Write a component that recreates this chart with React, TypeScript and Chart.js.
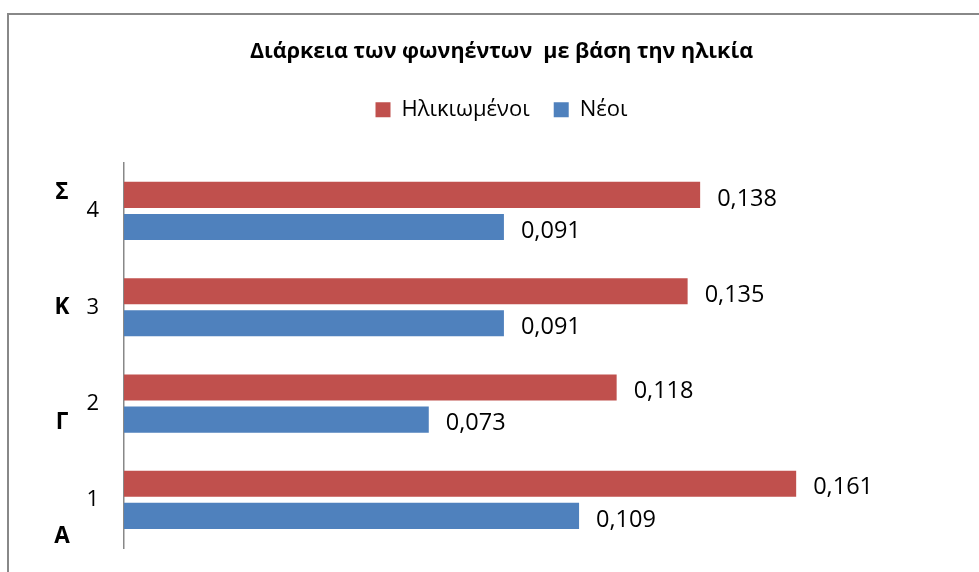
import React, { useEffect, useRef } from "react";
import { Chart, registerables } from "chart.js";

Chart.register(...registerables);

const categories = ["1", "2", "3", "4"];
const sideLetters = ["Σ", "Κ", "Γ", "Α"]; // top to bottom
const seriesNames = ["Ηλικιωμένοι", "Νέοι"];
const elderly = [0.161, 0.118, 0.135, 0.138];
const young = [0.109, 0.073, 0.091, 0.091];
const titleText = "Διάρκεια των φωνηέντων  με βάση την ηλικία";

const FONT = "'Open Sans', 'Noto Sans', sans-serif";

const framePlugin = {
  id: "frame",
  beforeDraw(chart: any) {
    const ctx = chart.ctx;
    ctx.save();
    ctx.fillStyle = "#ffffff";
    ctx.fillRect(0, 0, chart.width, chart.height);
    ctx.strokeStyle = "#888888";
    ctx.lineWidth = 2;
    ctx.beginPath();
    ctx.moveTo(8, chart.height);
    ctx.lineTo(8, 14);
    ctx.lineTo(chart.width, 14);
    ctx.stroke();
    ctx.restore();
  },
};

const labelsPlugin = {
  id: "valueLabels",
  afterDatasetsDraw(chart: any) {
    const ctx = chart.ctx;
    ctx.save();
    ctx.font = `23.5px ${FONT}`;
    ctx.fillStyle = "#000000";
    ctx.textAlign = "left";
    ctx.textBaseline = "middle";
    chart.data.datasets.forEach((ds: any, di: number) => {
      const meta = chart.getDatasetMeta(di);
      meta.data.forEach((el: any, i: number) => {
        const v = ds.data[i] as number;
        ctx.fillText(v.toFixed(3).replace(".", ","), el.x + 17, el.y + 4);
      });
    });
    // side letters
    const { top, bottom } = chart.chartArea;
    ctx.font = `bold 22.5px ${FONT}`;
    ctx.textAlign = "center";
    const y0 = top + 30;
    const y1 = bottom - 11;
    sideLetters.forEach((t, i) => {
      ctx.fillText(t, 62, y0 + (i * (y1 - y0)) / (sideLetters.length - 1));
    });
    ctx.restore();
  },
};

export default function App() {
  const ref = useRef<HTMLCanvasElement>(null);
  useEffect(() => {
    if (!ref.current) return;
    const chart = new Chart(ref.current, {
      type: "bar",
      data: {
        labels: categories,
        datasets: [
          {
            label: seriesNames[0],
            data: elderly,
            backgroundColor: "#C0504D",
            categoryPercentage: 0.667,
            barPercentage: 0.8125,
          },
          {
            label: seriesNames[1],
            data: young,
            backgroundColor: "#4F81BD",
            categoryPercentage: 0.667,
            barPercentage: 0.8125,
          },
        ],
      },
      options: {
        indexAxis: "y",
        responsive: false,
        animation: false,
        layout: { padding: { left: 44, right: 20, top: 0, bottom: 24 } },
        plugins: {
          title: {
            display: true,
            text: titleText,
            color: "#000000",
            font: { family: FONT, size: 21.5, weight: "bold" },
            padding: { top: 39, bottom: 10 },
          },
          legend: {
            display: true,
            labels: {
              color: "#000000",
              font: { family: FONT, size: 22 },
              boxWidth: 15,
              boxHeight: 15,
              padding: 24,
            },
          },
          tooltip: { enabled: false },
        },
        scales: {
          x: {
            position: "top",
            min: 0,
            max: 0.2,
            display: true,
            grid: { display: false },
            border: { display: false },
            ticks: { display: false },
            afterFit: (s: any) => {
              s.height = 32;
            },
          },
          y: {
            reverse: true,
            grid: { display: false, drawTicks: false },
            border: { display: true, color: "#888888", width: 1.5 },
            ticks: {
              color: "#000000",
              font: { family: FONT, size: 22 },
              padding: 25,
            },
            afterFit: (s: any) => {
              s.width = 80;
              s.paddingTop = 0;
              s.paddingBottom = 0;
            },
          },
        },
      },
      plugins: [framePlugin, labelsPlugin],
    });
    return () => chart.destroy();
  }, []);
  return (
    <div style={{ position: "absolute", left: 0, top: 0, width: 979, height: 572 }}>
      <canvas ref={ref} width={979} height={572} style={{ width: 979, height: 572 }} />
    </div>
  );
}
